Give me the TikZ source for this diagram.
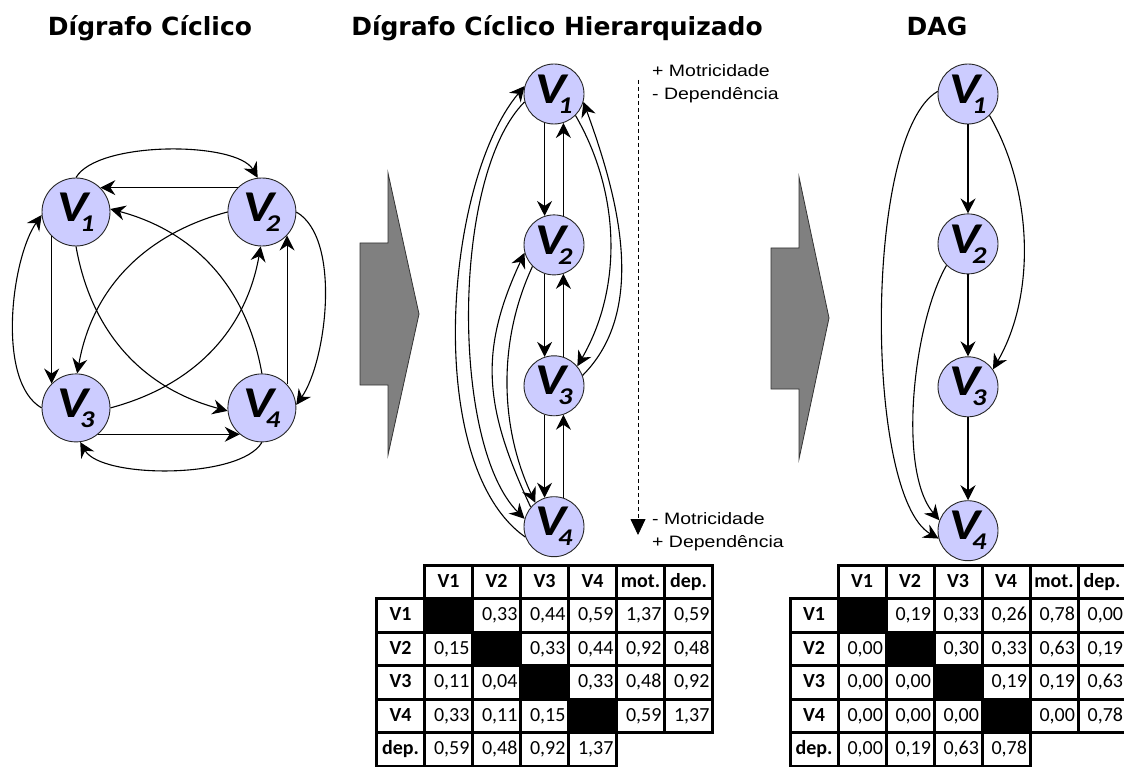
\documentclass[tikz,border=0pt]{standalone}
\usepackage{fontspec}
\usepackage{graphicx}
\setmainfont{Liberation Sans}
\newfontfamily\titlefont{DejaVu Sans}
\newfontfamily\vfont{Carlito}
\newfontfamily\tabfont{Carlito}
\newfontfamily\sidefont{Liberation Sans}[FakeStretch=1.18]
\usetikzlibrary{arrows.meta,positioning,matrix}
\definecolor{vfill}{RGB}{204,204,255}
\tikzset{
	>={Stealth[length=15pt,width=15pt,inset=5pt]},semithick,node distance =1cm and 1cm,
}
\newcommand{\vname}[1]{\scalebox{1.18}[1]{V\kern-7pt\raisebox{-10pt}{\fontsize{24}{24}\selectfont #1}}}

\begin{document}
\begin{tikzpicture}[
	x=1pt, y=1pt,
	vnode/.style={circle, draw=black!85, line width=0.9pt, fill=vfill, inner sep=0pt, minimum size=68pt, font=\vfont\bfseries\itshape\fontsize{44}{44}\selectfont},
	vnodes/.style={vnode, minimum size=60pt},
	link/.style={->, line width=1.1pt},
	bigarrow/.style={draw=black!80, line width=0.8pt, fill=gray},
	title/.style={font=\titlefont\bfseries\fontsize{25}{25}\selectfont, anchor=base},
	side/.style={font=\sidefont\fontsize{16.5}{16.5}\selectfont, anchor=base west, inner sep=0pt},
	cell/.style={draw, line width=3pt, outer sep=0pt, inner sep=3pt, minimum height=33.5pt, text width=42pt, text height=13pt, text depth=3pt, align=right, anchor=center, font=\tabfont\fontsize{20}{20}\selectfont},
	hdr/.style={align=center, font=\tabfont\bfseries\fontsize{20}{20}\selectfont},
	blk/.style={fill=black},
	tabla/.style={matrix of nodes, inner sep=0pt, outer sep=0pt, column sep={48pt,between origins}, row sep={33.5pt,between origins}, nodes={cell}, row 1/.style={nodes={hdr}}, column 1/.style={nodes={hdr}}},
	]
	\useasboundingbox (0,0) rectangle (1124,-767);

	%titles
	\node[title] (tCyc) at (150,-36) {Dígrafo Cíclico};
	\node[title] (tHier) at (557,-36) {Dígrafo Cíclico Hierarquizado};
	\node[title] (tDag) at (937,-36) {DAG};

	%cyclic digraph
	\node[vnode] (l1) at (76,-212) {\vname{1}};
	\node[vnode] (l2) [right = 117pt of l1] {\vname{2}};
	\node[vnode] (l3) [below = 127pt of l1] {\vname{3}};
	\node[vnode] (l4) [below = 127pt of l2] {\vname{4}};

	\path (l1.90) edge[link, out=60, in=120, looseness=0.6] (l2.97);
	\path (l2.135) edge[link] (l1.45);
	\path (l2.180) edge[link, out=195, in=80] (l3.88);
	\path (l4.90) edge[link, out=100, in=-15] (l1.5);
	\path (l1.270) edge[link, out=280, in=165] (l4.185);
	\path (l3.0) edge[link, out=15, in=260] (l2.268);
	\path (l1.225) edge[link] (l3.135);
	\path (l3.180) edge[link, out=150, in=235, looseness=0.7] (l1.185);
	\path (l4.43) edge[link] (l2.-43);
	\path (l2.0) edge[link, out=-30, in=55, looseness=0.7] (l4.5);
	\path (l3.-50) edge[link] (l4.230);
	\path (l4.-90) edge[link, out=240, in=300, looseness=0.6] (l3.-83);

	%big arrows
	\draw[bigarrow] (388,-173) -- (419,-314) -- (388,-455) -- (388,-385) -- (360,-385) -- (360,-243) -- (388,-243) -- cycle;
	\draw[bigarrow] (799,-177) -- (829,-318) -- (799,-459) -- (799,-389) -- (771,-389) -- (771,-248) -- (799,-248) -- cycle;

	%hierarchized digraph
	\node[vnodes] (h1) at (554,-94) {\vname{1}};
	\node[vnodes] (h2) [below = 90pt of h1] {\vname{2}};
	\node[vnodes] (h3) [below = 80pt of h2] {\vname{3}};
	\node[vnodes] (h4) [below = 80pt of h3] {\vname{4}};

	%straight paths
	\path (h1.252) edge[link] (h2.108);
	\path (h2.72) edge[link] (h1.-72);
	\path (h2.252) edge[link] (h3.108);
	\path (h3.72) edge[link] (h2.-72);
	\path (h3.252) edge[link] (h4.108);
	\path (h4.72) edge[link] (h3.-72);
	%left arcs
	\path (h4.200) edge[link, out=145, in=230, looseness=0.71] (h1.165);
	\path (h1.195) edge[link, out=225, in=135, looseness=0.64] (h4.165);
	\path (h4.140) edge[link, out=115, in=245, looseness=1.1] (h2.195);
	\path (h2.225) edge[link, out=245, in=115, looseness=0.9] (h4.128);
	%right arcs
	\path (h3.20) edge[link, out=45, in=-70, looseness=0.89] (h1.-15);
	\path (h1.-45) edge[link, out=-60, in=60, looseness=0.92] (h3.40);

	%motricity axis
	\coordinate (axTop) at (638,-80);
	\coordinate (axBot) at (638,-535);
	\draw[dashed, line width=0.8pt, dash pattern=on 4pt off 3pt, -{Triangle[length=16pt,width=15pt]}] (axTop) -- (axBot);
	\node[side] (motUp) at (652,-76.7) {+ Motricidade};
	\node[side] (depUp) at (652,-99.3) {- Dependência};
	\node[side] (motDn) at (652,-524) {- Motricidade};
	\node[side] (depDn) at (652,-547) {+ Dependência};

	%DAG
	\node[vnodes] (d1) at (968,-94) {\vname{1}};
	\node[vnodes] (d2) [below = 89pt of d1] {\vname{2}};
	\node[vnodes] (d3) [below = 82pt of d2] {\vname{3}};
	\node[vnodes] (d4) [below = 83pt of d3] {\vname{4}};

	\path (d1.south) edge[link] (d2.north);
	\path (d2.south) edge[link] (d3.north);
	\path (d3.south) edge[link] (d4.north);
	\path (d1.-45) edge[link, out=-60, in=60, looseness=0.87] (d3.35);
	\path (d1.175) edge[link, out=210, in=150, looseness=0.49] (d4.195);
	\path (d2.225) edge[link, out=240, in=130, looseness=0.66] (d4.160);

	%tables
	\matrix (tabA) [tabla, matrix anchor=tabA-2-1.center] at (400.5,-615.5) {
		     & V1 & V2 & V3 & V4 & mot. & dep. \\
		V1   & |[blk]| {} & 0,33 & 0,44 & 0,59 & 1,37 & 0,59 \\
		V2   & 0,15 & |[blk]| {} & 0,33 & 0,44 & 0,92 & 0,48 \\
		V3   & 0,11 & 0,04 & |[blk]| {} & 0,33 & 0,48 & 0,92 \\
		V4   & 0,33 & 0,11 & 0,15 & |[blk]| {} & 0,59 & 1,37 \\
		dep. & 0,59 & 0,48 & 0,92 & 1,37 & & \\
	};
	\matrix (tabB) [tabla, matrix anchor=tabB-2-1.center] at (814,-615.5) {
		     & V1 & V2 & V3 & V4 & mot. & dep. \\
		V1   & |[blk]| {} & 0,19 & 0,33 & 0,26 & 0,78 & 0,00 \\
		V2   & 0,00 & |[blk]| {} & 0,30 & 0,33 & 0,63 & 0,19 \\
		V3   & 0,00 & 0,00 & |[blk]| {} & 0,19 & 0,19 & 0,63 \\
		V4   & 0,00 & 0,00 & 0,00 & |[blk]| {} & 0,00 & 0,78 \\
		dep. & 0,00 & 0,19 & 0,63 & 0,78 & & \\
	};

\end{tikzpicture}
\end{document}
